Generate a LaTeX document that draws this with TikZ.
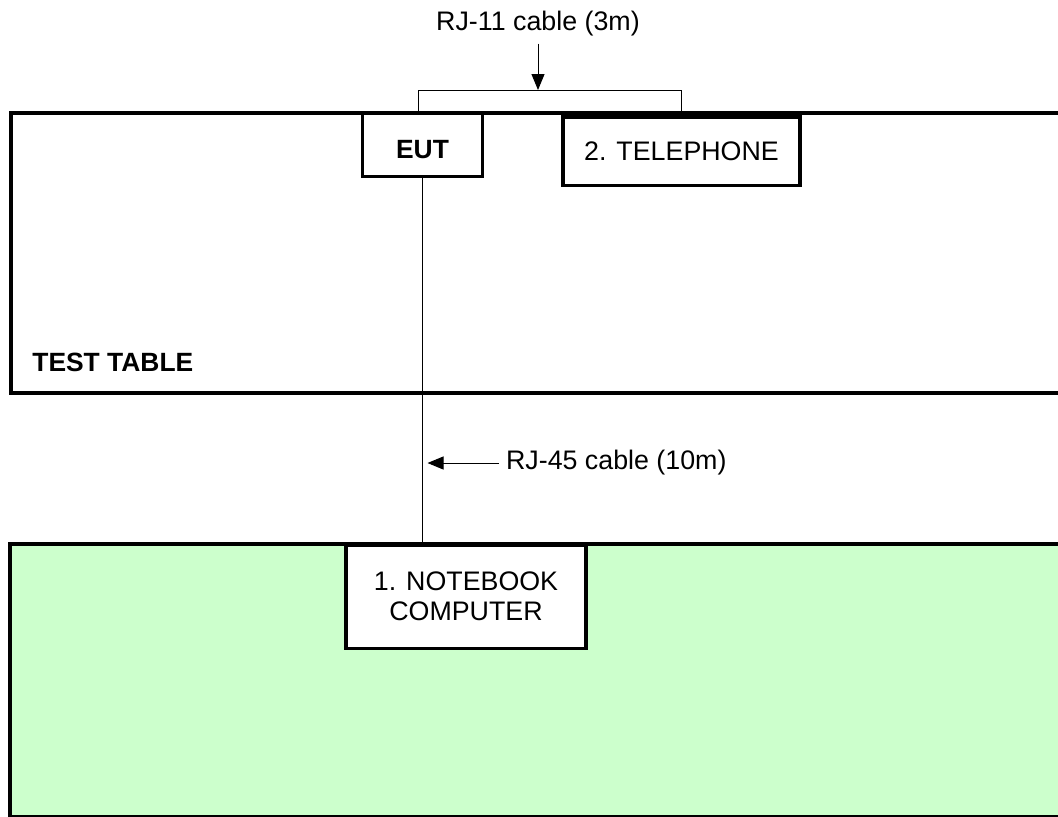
\documentclass[tikz,border=0pt]{standalone}
\usepackage{fontspec}
\setmainfont{Liberation Sans}
\usetikzlibrary{calc}
\usetikzlibrary{arrows.meta}
\usetikzlibrary{positioning}

\begin{document}
\begin{tikzpicture}[x=0.5pt, y=-0.5pt,
  font=\fontsize{13.4}{15}\selectfont,
  table/.style={draw=black, line width=2pt},
  box/.style={rectangle, draw=black, fill=white, line width=1.75pt, inner sep=0pt, align=center},
  cable/.style={draw=black, line width=0.5pt},
  arr/.style={-{Triangle[length=8pt, width=6.5pt]}, draw=black, line width=0.5pt}]
\useasboundingbox (0,0) rectangle (1058,816);
\clip (0,0) rectangle (1058,816);
\draw [table, fill=white] (10.5,113) rectangle (1080,393);
\draw [table, fill={rgb,255:red,204;green,255;blue,204}] (10,543.5) rectangle (1080,817);
\node [anchor=base west, inner sep=0pt, font=\fontsize{13.2}{15}\selectfont\bfseries] (TT) at (32,371.7) {TEST TABLE};
\node [box, minimum width=60pt, minimum height=31.75pt, text height=14pt, font=\fontsize{13.2}{15}\selectfont\bfseries] (EUT) at (422.5,144.75) {EUT};
\node [box, minimum width=118.5pt, minimum height=34.25pt] (TEL) at (681.5,151.25) {2. TELEPHONE};
\node [box, minimum width=120pt, minimum height=51.75pt] (NB) at (466,596.75) {1. NOTEBOOK\\COMPUTER};
\coordinate (B) at (0,90);
\draw [cable] ([xshift=-2.25pt]EUT.north) -- ([xshift=-2.25pt]EUT.north |- B) -| (TEL.north);
\node (RJ11) at (538,24) {RJ-11 cable (3m)};
\draw [arr] (RJ11.south) -- (RJ11.south |- B);
\draw [cable] (EUT.south) -- (EUT.south |- NB.north);
\node [anchor=west] (RJ45) at (499,463) {RJ-45 cable (10m)};
\draw [arr, shorten >=2.5pt] (RJ45.west) -- (RJ45.west -| EUT.south);
\end{tikzpicture}
\end{document}
